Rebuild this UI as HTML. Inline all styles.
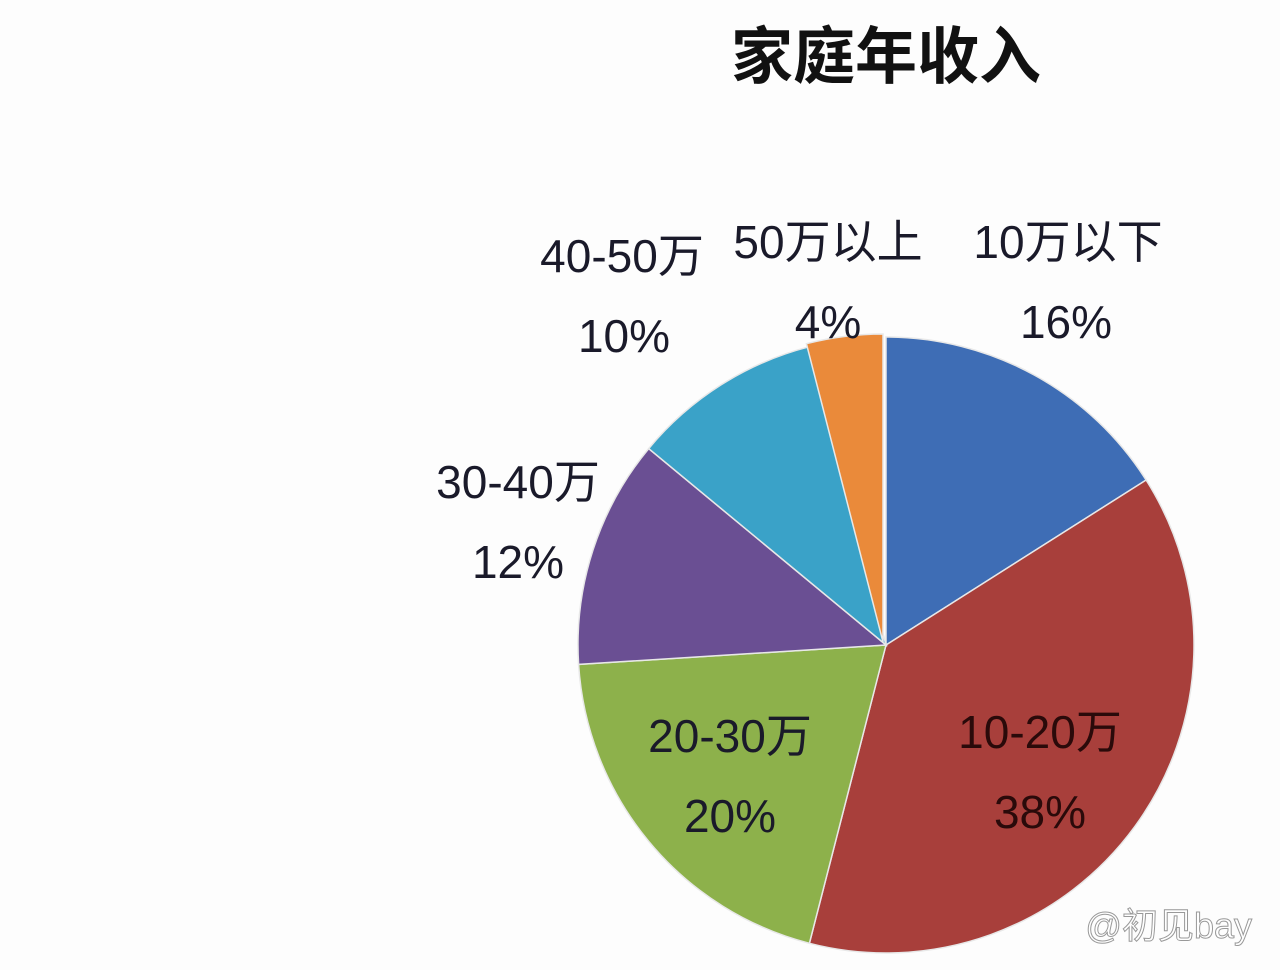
<!DOCTYPE html>
<html><head><meta charset="utf-8"><style>
html,body{margin:0;padding:0;background:#fdfdfd;}
svg{display:block}
text{font-family:"Liberation Sans","Noto Sans CJK SC",sans-serif;}
</style></head><body>
<svg width="1280" height="970" viewBox="0 0 1280 970" xmlns="http://www.w3.org/2000/svg">
<rect width="1280" height="970" fill="#fdfdfd"/>
<text x="886" y="78" font-size="62" font-weight="bold" text-anchor="middle" fill="#111" font-family="'Noto Sans CJK SC',sans-serif">家庭年收入</text>
<g transform="translate(886,645)" stroke="#e8e8e8" stroke-width="1.5">
<path d="M0,0 L0,-308 A308,308 0 0,1 260.1,-165.0 Z" fill="#3e6db5"/>
<path d="M0,0 L260.1,-165.0 A308,308 0 0,1 -76.6,298.3 Z" fill="#a83f3b"/>
<path d="M0,0 L-76.6,298.3 A308,308 0 0,1 -307.4,19.4 Z" fill="#8db14b"/>
<path d="M0,0 L-307.4,19.4 A308,308 0 0,1 -237.3,-196.4 Z" fill="#6a4f93"/>
<path d="M0,0 L-237.3,-196.4 A308,308 0 0,1 -76.6,-298.3 Z" fill="#3aa2c8"/>
<path d="M-3,-3 L-79.6,-301.3 A308,308 0 0,1 -3,-311 Z" fill="#ea8a3a"/>
</g>
<g font-size="46" fill="#1a1a2a" text-anchor="middle">
<text x="1068" y="258">10万以下</text>
<text x="1066" y="338">16%</text>
<text x="828" y="258">50万以上</text>
<text x="828" y="338">4%</text>
<text x="622" y="272">40-50万</text>
<text x="624" y="352">10%</text>
<text x="518" y="498">30-40万</text>
<text x="518" y="578">12%</text>
<text x="730" y="752">20-30万</text>
<text x="730" y="832">20%</text>
<text x="1040" y="748" fill="#2a0a0a">10-20万</text>
<text x="1040" y="828" fill="#2a0a0a">38%</text>
</g>
<text x="1252" y="938" font-size="36" fill="#ffffff" stroke="#999" stroke-width="1" text-anchor="end">@初见bay</text>
</svg>
</body></html>
